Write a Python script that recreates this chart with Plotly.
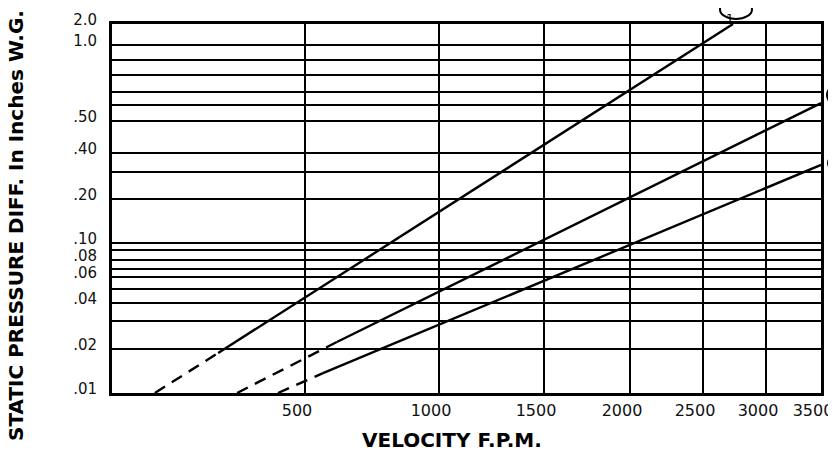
import numpy as np
import plotly.graph_objects as go

# ---------------- data ----------------
# Velocity tick labels (F.P.M.)
velocity_ticks = [500, 1000, 1500, 2000, 2500, 3000, 3500]
velocity_labels = ["500", "1000", "1500", "2000", "2500", "3000", "3500"]

# Pressure gridlines (inches W.G.) and the labelled ones
pressure_grid = [0.01, 0.02, 0.03, 0.04, 0.05, 0.06, 0.07, 0.08, 0.09, 0.10,
                 0.20, 0.30, 0.40, 0.50, 0.60, 0.70, 0.80, 0.90, 1.0, 2.0]
pressure_labelled = [0.01, 0.02, 0.04, 0.06, 0.08, 0.10, 0.20, 0.40, 0.50, 1.0, 2.0]
pressure_labels = [".01", ".02", ".04", ".06", ".08", ".10", ".20", ".40", ".50", "1.0", "2.0"]

# Curves: velocity / pressure at dashed start, start of solid part, end
curve_names = ["1", "2", "3"]
curve1_v = [111, 275, 2738]
curve1_p = [0.01, 0.0191, 2.0]
curve2_v = [324, 619, 3500]
curve2_p = [0.01, 0.0225, 0.615]
curve3_v = [430, 567, 3500]
curve3_p = [0.01, 0.0145, 0.337]

# Non-uniform printed scales of the chart (axis calibration)
VEL_CAL = [0, 500, 1000, 1500, 2000, 2500, 3000, 3500]
VEL_POS = [0, 193, 327, 432, 518, 591, 654, 709]
PRS_CAL = [0.01, 0.02, 0.03, 0.04, 0.05, 0.06, 0.07, 0.08, 0.09, 0.10,
           0.20, 0.30, 0.40, 0.50, 0.60, 0.70, 0.80, 0.90, 1.0, 2.0]
PRS_POS = [0, 44, 72, 90, 104, 116, 124, 133, 143, 150,
           194, 221, 240, 272, 288, 301, 318, 333, 348, 369]
XMAX, YMAX = VEL_POS[-1], PRS_POS[-1]

# page body has an 8px margin; figure sized so the plot lands where the reference has it
OFF = 8
W, H = 836 - OFF, 452 - OFF
ML, MT = 112 - OFF, 24 - OFF
MR = W - ML - XMAX
MB = H - MT - YMAX


def sx(v):
    return np.interp(v, VEL_CAL, VEL_POS)


def sy(p):
    return np.interp(p, PRS_CAL, PRS_POS)


FONT = "DejaVu Sans"
fig = go.Figure()

curves = [(curve1_v, curve1_p), (curve2_v, curve2_p), (curve3_v, curve3_p)]
for name, (cv, cp) in zip(curve_names, curves):
    xs, ys = sx(cv), sy(cp)
    fig.add_trace(go.Scatter(x=xs[:2], y=ys[:2], mode="lines",
                             line=dict(color="black", width=2.4, dash="12px,8px"),
                             showlegend=False, hoverinfo="skip"))
    fig.add_trace(go.Scatter(x=xs[1:], y=ys[1:], mode="lines",
                             line=dict(color="black", width=2.4),
                             showlegend=False, hoverinfo="skip", name=name))

# circled curve numbers next to the curve ends (pixel offsets)
circle_offsets = [(-13, 19, 5, 24), (6, 36, -4, 20), (7, 37, -8, 12)]
for name, (cv, cp), (x0, x1, y0, y1) in zip(curve_names, curves, circle_offsets):
    ax = float(sx(cv[-1])) / XMAX
    ay = float(sy(cp[-1])) / YMAX
    fig.add_shape(type="circle", xref="paper", yref="paper",
                  xsizemode="pixel", ysizemode="pixel",
                  xanchor=ax, yanchor=ay, x0=x0, x1=x1, y0=y0, y1=y1,
                  line=dict(color="black", width=2), layer="above")
    fig.add_annotation(xref="paper", yref="paper", x=ax, y=ay,
                       xshift=(x0 + x1) / 2, yshift=(y0 + y1) / 2,
                       text=name, showarrow=False,
                       font=dict(family=FONT, size=12, color="black"))

ytext = []
for p in pressure_grid:
    ytext.append(pressure_labels[pressure_labelled.index(p)] if p in pressure_labelled else "")

fig.update_layout(
    width=W, height=H,
    margin=dict(l=ML, r=MR, t=MT, b=MB, autoexpand=False),
    plot_bgcolor="white", paper_bgcolor="white",
    showlegend=False,
    xaxis=dict(range=[0, XMAX], tickvals=sx(velocity_ticks), ticktext=velocity_labels,
               showgrid=True, gridcolor="black", gridwidth=2, zeroline=False,
               showline=True, linecolor="black", linewidth=3, mirror=True,
               ticks="", ticklabelstandoff=1, ticklabelshift=-8,
               tickfont=dict(family=FONT, size=16, color="#111")),
    yaxis=dict(range=[0, YMAX], tickvals=sy(pressure_grid), ticktext=ytext,
               showgrid=True, gridcolor="black", gridwidth=2, zeroline=False,
               showline=True, linecolor="black", linewidth=3, mirror=True,
               ticks="", ticklabelstandoff=9, ticklabelshift=-4,
               tickfont=dict(family=FONT, size=15, color="#111")),
)

fig.add_annotation(xref="paper", yref="paper", x=(452 - 112) / XMAX, y=(393 - 440) / YMAX,
                   text="VELOCITY F.P.M.", showarrow=False, xanchor="center", yanchor="middle",
                   font=dict(family=FONT, size=20, color="black", weight="bold"))
fig.add_annotation(xref="paper", yref="paper", x=(16 - 112) / XMAX, y=(393 - 226) / YMAX,
                   text="STATIC PRESSURE DIFF. In Inches W.G.", showarrow=False, textangle=-90,
                   xanchor="center", yanchor="middle",
                   font=dict(family=FONT, size=20, color="black", weight="bold"))

fig.write_html("out.html")
